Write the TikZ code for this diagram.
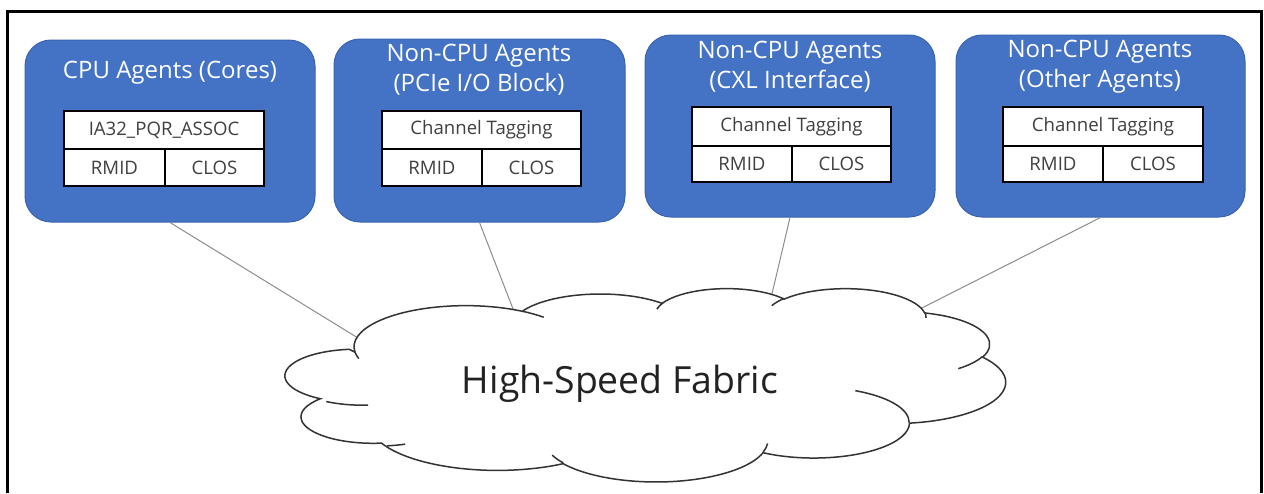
\documentclass[tikz,border=0pt]{standalone}
\usepackage{fontspec}
\setmainfont{Open Sans}
\definecolor{agentblue}{HTML}{4472C4}
\definecolor{agentedge}{HTML}{3A64AE}
\definecolor{celltext}{HTML}{404040}
\definecolor{linkgray}{HTML}{8C8C8C}
\definecolor{cloudink}{HTML}{333333}
\definecolor{fabricink}{HTML}{222222}
% arc in DrawingML convention: wR, hR, start angle (visual, deg), sweep (deg)
\newcommand\ooarc[4]{arc[start angle={#3+Mod(atan2(#1*sin(#3),#2*cos(#3))-(#3)+180,360)-180}, end angle={(#3+#4)+Mod(atan2(#1*sin(#3+#4),#2*cos(#3+#4))-(#3+#4)+180,360)-180}, x radius=#1, y radius=#2]}
\newcommand\regtable[8]{%
  \node[cell, minimum width={(#4-#2)*0.5pt}, minimum height={(#5-#3)*0.5pt}] (#1h) at ({(#2+#4)/2},{(#3+#5)/2}) {#8};
  \node[cell, minimum width={(#7-#2)*0.5pt}, minimum height={(#6-#5)*0.5pt}] (#1r) at ({(#2+#7)/2},{(#5+#6)/2}) {RMID};
  \node[cell, minimum width={(#4-#7)*0.5pt}, minimum height={(#6-#5)*0.5pt}] (#1c) at ({(#7+#4)/2},{(#5+#6)/2}) {CLOS};
}
\tikzset{
  agent/.style={draw=agentedge, line width=0.5pt, fill=agentblue, rounded corners=13pt, inner sep=0pt},
  agenttitle/.style={text=white, font=\fontsize{12}{15}\selectfont, align=center, inner sep=0pt},
  cell/.style={draw=black, line width=0.6pt, fill=white, inner sep=0pt, text=celltext, font=\fontsize{9.3}{11}\selectfont},
  link/.style={draw=linkgray, line width=0.5pt},
  cloudstroke/.style={draw=cloudink, line width=0.75pt},
  framestroke/.style={draw=black, line width=1.5pt}
}
\begin{document}
\begin{tikzpicture}[x=0.5pt, y=-0.5pt]
\useasboundingbox (0,0) rectangle (1264,493);
% outer frame
\draw[framestroke] (7,493) -- (7,11) -- (1261.5,11) -- (1261.5,493);
% agent boxes
\node[agent, minimum width=145pt, minimum height=91pt] (b1) at (170,131) {};
\node[agent, minimum width=145.5pt, minimum height=91.5pt] (b2) at (479.5,130.5) {};
\node[agent, minimum width=145pt, minimum height=91pt] (b3) at (790,126) {};
\node[agent, minimum width=144.5pt, minimum height=91pt] (b4) at (1100.5,126) {};
% titles
\node[agenttitle] (t1) at (170,73) {CPU Agents (Cores)};
\node[agenttitle] (t2) at (479,70) {Non-CPU Agents\\(PCIe I/O Block)};
\node[agenttitle] (t3) at (790,67) {Non-CPU Agents\\(CXL Interface)};
\node[agenttitle] (t4) at (1100,67) {Non-CPU Agents\\(Other Agents)};
% register tables
\regtable{a}{64}{111}{264}{149}{186}{165}{IA32\_PQR\_ASSOC}
\regtable{p}{382}{111}{581}{149}{186}{482}{Channel Tagging}
\regtable{x}{692}{107}{891}{146}{182}{792}{Channel Tagging}
\regtable{o}{1003}{107}{1203}{146}{182}{1103}{Channel Tagging}
% connector ends on the cloud
\coordinate (k1) at (358,338);
\coordinate (k2) at (515,314);
\coordinate (k3) at (771,298);
\coordinate (k4) at (912,313);
\draw[link] (b1.south) -- (k1);
\draw[link] (b2.south) -- (k2);
\draw[link] (b3.south) -- (k3);
\draw[link] (b4.south) -- (k4);
% cloud
\begin{scope}[shift={(290.5,288)}, x=0.8275pt, y=-0.2237pt]
\draw[cloudstroke, fill=white] (39.00,143.70)
  \ooarc{67.53}{91.90}{-190.4875}{123.7805}
  \ooarc{53.33}{72.67}{-144.1024}{89.9452}
  \ooarc{43.65}{59.45}{-145.8079}{99.7230}
  \ooarc{48.57}{65.95}{-130.9861}{117.2417}
  \ooarc{53.33}{72.73}{-78.7089}{109.0269}
  \ooarc{67.75}{92.20}{-46.2673}{130.2825}
  \ooarc{57.85}{78.67}{0.6250}{114.0333}
  \ooarc{67.52}{92.15}{22.4516}{115.1726}
  \ooarc{77.20}{105.43}{66.2426}{81.3716}
  \ooarc{43.60}{59.18}{-274.9421}{146.7356}
  \ooarc{43.45}{59.45}{-246.8285}{152.5189} -- cycle;
\draw[cloudstroke]
  (46.93,261.77) \ooarc{43.45}{59.45}{86.7420}{26.4295}
  (69.28,348.99) \ooarc{43.60}{59.18}{73.6105}{11.4475}
  (164.78,390.90) \ooarc{67.52}{92.15}{137.6242}{14.0811}
  (288.27,347.51) \ooarc{67.52}{92.15}{6.4533}{15.9984}
  (341.29,229.54) \ooarc{57.85}{78.67}{-70.2924}{70.9174}
  (417.98,153.54) \ooarc{53.33}{72.73}{30.3180}{27.7515}
  (383.24,54.26) \ooarc{48.57}{65.95}{-13.7443}{14.8589}
  (290.78,39.52) \ooarc{48.57}{65.95}{-149.1815}{18.1954}
  (221.41,47.20) \ooarc{43.65}{59.45}{-163.4943}{17.8378}
  (140.00,51.92) \ooarc{67.53}{91.90}{-66.7070}{12.3194}
  (41.27,157.89) \ooarc{67.53}{91.90}{157.6544}{11.8582};
\end{scope}
\node[font=\fontsize{18.7}{22}\selectfont, text=fabricink, inner sep=0pt] (fab) at (620,384) {High-Speed Fabric};
\end{tikzpicture}
\end{document}
